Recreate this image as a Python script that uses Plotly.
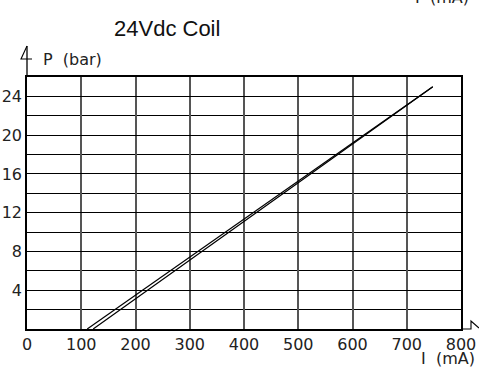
import plotly.graph_objects as go

# Data
current_a = [111, 200, 300, 500, 748]      # mA
pressure_a = [0, 3.5, 7.4, 15.3, 25.0]     # bar
current_b = [122, 200, 300, 500, 748]
pressure_b = [0, 3.1, 7.1, 15.1, 25.0]

x_ticks = [0, 100, 200, 300, 400, 500, 600, 700, 800]
y_ticks = [4, 8, 12, 16, 20, 24]

W, H = 479, 367
ML, MR, MT, MB = 27, 18, 77, 38

fig = go.Figure()
for xs, ys in [(current_a, pressure_a), (current_b, pressure_b)]:
    fig.add_trace(go.Scatter(x=xs, y=ys, mode="lines",
                             line=dict(color="black", width=1.2),
                             showlegend=False, hoverinfo="skip"))

tick_font = dict(family="DejaVu Sans", size=16, color="#222")

fig.update_layout(
    width=W, height=H,
    margin=dict(l=ML, r=MR, t=MT, b=MB, autoexpand=False),
    paper_bgcolor="white", plot_bgcolor="white",
    xaxis=dict(range=[0, 800], tickvals=x_ticks, ticktext=[str(v) for v in x_ticks],
               showgrid=True, gridcolor="#555", gridwidth=1.5, automargin=False,
               showline=True, linecolor="black", linewidth=1.5, mirror=True,
               ticks="", tickfont=tick_font, zeroline=False),
    yaxis=dict(range=[0, 26], tickvals=y_ticks, ticktext=[str(v) for v in y_ticks],
               showgrid=True, gridcolor="black", gridwidth=1.2, automargin=False,
               minor=dict(tickmode="linear", tick0=0, dtick=2, showgrid=True,
                          gridcolor="black", gridwidth=1.2),
               showline=True, linecolor="black", linewidth=1.5, mirror=True,
               ticks="", tickfont=tick_font, zeroline=False),
)

pw = W - ML - MR
ph = H - MT - MB
def px(xp):
    return (xp - ML) / pw
def py(yp):
    return (H - MB - yp) / ph

# y-axis extension with half arrowhead
fig.add_shape(type="line", xref="paper", yref="paper", x0=0, x1=0, y0=1, y1=py(46),
              line=dict(color="black", width=1.3))
fig.add_shape(type="path", xref="paper", yref="paper",
              path=f"M {px(27)} {py(46)} L {px(21)} {py(59)} L {px(32)} {py(59)}",
              line=dict(color="black", width=1.1))
# x-axis extension with half arrowhead
fig.add_shape(type="path", xref="paper", yref="paper",
              path=f"M {px(461)} {py(329)} L {px(471)} {py(329)} L {px(471)} {py(321)} L {px(479)} {py(328)}",
              line=dict(color="black", width=1.1))

fig.add_annotation(text="24Vdc Coil", xref="paper", yref="paper",
                   x=px(167), y=py(28), xanchor="center", yanchor="middle", showarrow=False,
                   font=dict(family="Liberation Sans, Arial", size=22, color="#111"))
fig.add_annotation(text="P  (bar)", xref="paper", yref="paper",
                   x=px(41), y=py(59), xanchor="left", yanchor="middle", showarrow=False,
                   font=tick_font)
fig.add_annotation(text="I  (mA)", xref="paper", yref="paper",
                   x=px(477), y=py(358), xanchor="right", yanchor="middle", showarrow=False,
                   font=tick_font)
fig.add_annotation(text="I  (mA)", xref="paper", yref="paper",
                   x=px(471), y=py(-3), xanchor="right", yanchor="middle", showarrow=False,
                   font=tick_font)

fig.write_html("out.html")
